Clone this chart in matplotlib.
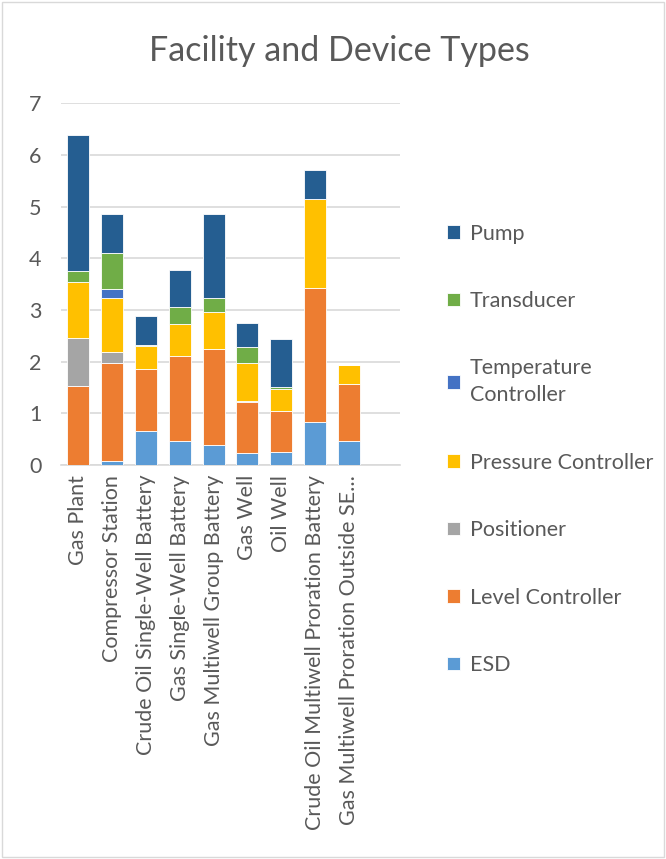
import matplotlib
matplotlib.use("Agg")
import matplotlib.pyplot as plt
import numpy as np

plt.rcParams['font.family'] = ['Lato', 'DejaVu Sans']

categories = ["Gas Plant", "Compressor Station", "Crude Oil Single-Well Battery",
              "Gas Single-Well Battery", "Gas Multiwell Group Battery", "Gas Well",
              "Oil Well", "Crude Oil Multiwell Proration Battery",
              "Gas Multiwell Proration Outside SE..."]

esd = [0.00, 0.07, 0.66, 0.46, 0.39, 0.24, 0.26, 0.83, 0.46]
level_controller = [1.52, 1.90, 1.19, 1.64, 1.86, 0.97, 0.79, 2.60, 1.11]
positioner = [0.94, 0.22, 0.00, 0.00, 0.00, 0.02, 0.00, 0.00, 0.00]
pressure_controller = [1.08, 1.04, 0.45, 0.62, 0.71, 0.74, 0.43, 1.71, 0.37]
temperature_controller = [0.00, 0.18, 0.00, 0.00, 0.00, 0.00, 0.00, 0.00, 0.00]
transducer = [0.21, 0.69, 0.02, 0.34, 0.27, 0.32, 0.02, 0.00, 0.00]
pump = [2.63, 0.76, 0.56, 0.71, 1.63, 0.45, 0.94, 0.57, 0.00]

series = [
    ("ESD", esd, "#5B9BD5"),
    ("Level Controller", level_controller, "#ED7D31"),
    ("Positioner", positioner, "#A5A5A5"),
    ("Pressure Controller", pressure_controller, "#FFC000"),
    ("Temperature\nController", temperature_controller, "#4472C4"),
    ("Transducer", transducer, "#70AD47"),
    ("Pump", pump, "#255E91"),
]

text_color = "#595959"

fig = plt.figure(figsize=(6.66, 8.59), dpi=100)
ax = fig.add_axes([0.0916, 0.4587, 0.509, 0.421])

x = np.arange(len(categories))
bottom = np.zeros(len(categories))
handles = []
for name, vals, color in series:
    vals = np.array(vals)
    b = ax.bar(x, vals, width=0.65, bottom=bottom, color=color,
               edgecolor="white", linewidth=0.6, label=name, zorder=3)
    handles.append(b)
    bottom += vals

ax.set_xlim(-0.5, 9.5)
ax.set_ylim(0, 7)
ax.set_yticks(range(0, 8))
ax.yaxis.grid(True, color="#d9d9d9", linewidth=1.2, zorder=0)
ax.set_axisbelow(True)
for s in ["top", "right", "left"]:
    ax.spines[s].set_visible(False)
ax.spines["bottom"].set_color("#d9d9d9")
ax.spines["bottom"].set_linewidth(1.2)
ax.tick_params(axis="both", length=0, colors=text_color, labelsize=15.5)
ax.tick_params(axis="y", pad=14)
ax.tick_params(axis="x", pad=7)
ax.set_xticks(x)
ax.set_xticklabels(categories, rotation=90, color=text_color, fontsize=15.5)

fig.text(0.51, 0.941, "Facility and Device Types", ha="center", va="center",
         fontsize=24.5, color=text_color)

leg = fig.legend(handles[::-1], [s[0] for s in series][::-1],
                 loc="center left", bbox_to_anchor=(0.642, 0.477),
                 frameon=False, fontsize=15.5, labelcolor=text_color,
                 handlelength=0.6, handleheight=0.6, handletextpad=0.45,
                 labelspacing=2.2)
for t in leg.get_texts():
    t.set_linespacing(1.45)

# thin frame around the whole chart area
fig.add_artist(plt.Rectangle((0.003, 0.002), 0.994, 0.996, transform=fig.transFigure,
                             fill=False, edgecolor="#d9d9d9", linewidth=1))

fig.savefig("out.png", dpi=100)
